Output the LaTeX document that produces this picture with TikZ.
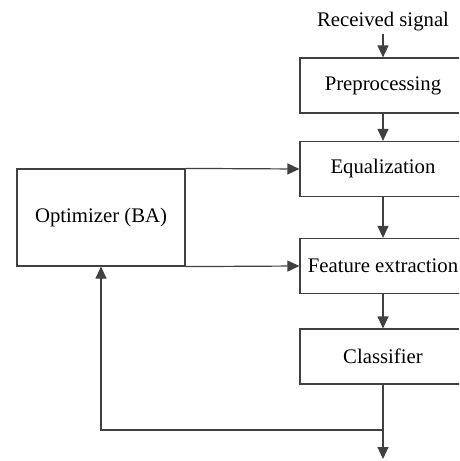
\documentclass[tikz,border=0pt]{standalone}
\usepackage{fontspec}
\setmainfont{Liberation Serif}
\usetikzlibrary{arrows.meta}
\begin{document}
\begin{tikzpicture}[x=1pt,y=-1pt,
  line width=1.2pt,
  blk/.style={draw=black!75, line width=1.2pt, minimum width=166pt, minimum height=55pt, inner sep=0pt, font=\fontsize{20.75}{24}\selectfont},
  arr/.style={-{Triangle[length=12pt,width=11pt]}, draw=black!75, line width=1.2pt},
  lbl/.style={inner sep=2.5pt, font=\fontsize{20.75}{24}\selectfont}]
\useasboundingbox (0,0) rectangle (459,461);
\clip (0,0) rectangle (459,461);
\node[lbl, anchor=base] (recv) at (383,26) {Received signal};
\node[blk] (pre) at (383,85.5) {Preprocessing};
\node[blk] (eq) at (383,169) {Equalization};
\node[blk] (feat) at (383,266) {Feature extraction};
\node[blk] (cls) at (383,356.5) {Classifier};
\node[blk, minimum width=168pt, minimum height=97pt] (opt) at (101,217.5) {Optimizer (BA)};
\coordinate (out) at (383,459);
\coordinate (fb) at (383,430);
\draw[arr] (recv.south) -- (pre.north);
\draw[arr] (pre) -- (eq);
\draw[arr] (eq) -- (feat);
\draw[arr] (feat) -- (cls);
\draw[arr] (cls.south) -- (out);
\draw[arr] (fb) -| (opt.south);
\draw[arr] (opt.north east) -- (eq.west);
\draw[arr] (opt.south east) -- (feat.west);
\end{tikzpicture}
\end{document}
